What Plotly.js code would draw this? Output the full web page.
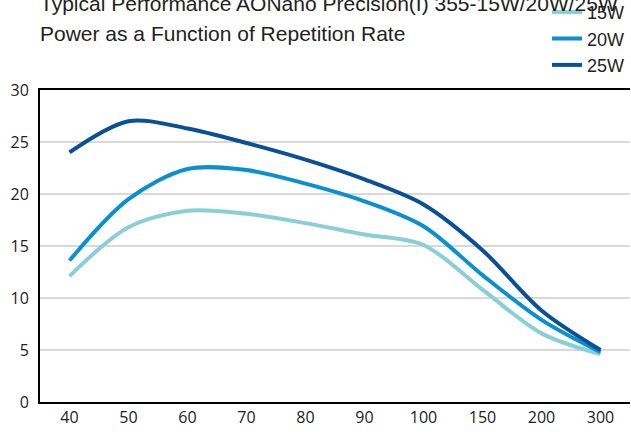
<!DOCTYPE html>
<html>
<head>
<meta charset="utf-8">
<script src="https://cdn.plot.ly/plotly-3.0.1.min.js"></script>
<style>
html,body{margin:0;padding:0;background:#fff;}
#chart{width:631px;height:438px;}
</style>
</head>
<body>
<div id="chart"></div>
<script>
var categories = ["40","50","60","70","80","90","100","150","200","300"];
var power15W = [12.1, 16.8, 18.4, 18.1, 17.2, 16.1, 15.1, 10.8, 6.6, 4.6];
var power20W = [13.6, 19.5, 22.4, 22.3, 21.0, 19.3, 16.9, 12.2, 7.9, 4.8];
var power25W = [24.0, 27.0, 26.3, 24.9, 23.3, 21.4, 19.0, 14.6, 8.8, 5.0];
var seriesNames = ["15W", "20W", "25W"];
var yTicks = [0, 5, 10, 15, 20, 25, 30];
var titleText = "Typical Performance AONano Precision(I) 355-15W/20W/25W";
var subtitleText = "Power as a Function of Repetition Rate";

var colors = ["#8ACFD6", "#0A8FD0", "#0A5096"];
var allSeries = [power15W, power20W, power25W];

var traces = allSeries.map(function (vals, i) {
  return {
    type: "scatter",
    mode: "lines",
    x: categories,
    y: vals,
    name: seriesNames[i],
    line: {color: colors[i], width: 4, shape: "spline", smoothing: 0.9},
    hoverinfo: "x+y+name"
  };
});

var layout = {
  width: 631,
  height: 438,
  margin: {l: 40, r: 1, t: 90, b: 36, pad: 0, autoexpand: false},
  paper_bgcolor: "#ffffff",
  plot_bgcolor: "#ffffff",
  showlegend: true,
  legend: {
    x: 1.0, xanchor: "right",
    y: 1.308, yanchor: "top",
    font: {family: "Liberation Sans, Arial, sans-serif", size: 18, color: "#231f20"},
    bgcolor: "rgba(0,0,0,0)",
    tracegroupgap: 0,
    itemwidth: 30
  },
  xaxis: {
    type: "category",
    range: [-0.5, 9.5],
    showline: true, linecolor: "#000000", linewidth: 2, mirror: true,
    showgrid: false, zeroline: false, ticks: "",
    tickfont: {family: "Open Sans, sans-serif", size: 16, color: "#222222"},
    fixedrange: true
  },
  yaxis: {
    range: [0, 30],
    tickvals: yTicks,
    showline: true, linecolor: "#000000", linewidth: 2,
    showgrid: true, gridcolor: "#d9d9d9", gridwidth: 2,
    zeroline: false, ticks: "",
    ticklabelstandoff: 6,
    tickfont: {family: "Open Sans, sans-serif", size: 16, color: "#222222"},
    fixedrange: true
  },
  annotations: [
    {
      xref: "paper", yref: "paper", x: -0.004, y: 1.276,
      xanchor: "left", yanchor: "middle",
      text: titleText, showarrow: false,
      font: {family: "Liberation Sans, Arial, sans-serif", size: 21, color: "#231f20"}
    },
    {
      xref: "paper", yref: "paper", x: -0.004, y: 1.18,
      xanchor: "left", yanchor: "middle",
      text: subtitleText, showarrow: false,
      font: {family: "Liberation Sans, Arial, sans-serif", size: 21, color: "#231f20"}
    }
  ]
};

Plotly.newPlot("chart", traces, layout, {displayModeBar: false, staticPlot: true});
</script>
</body>
</html>
